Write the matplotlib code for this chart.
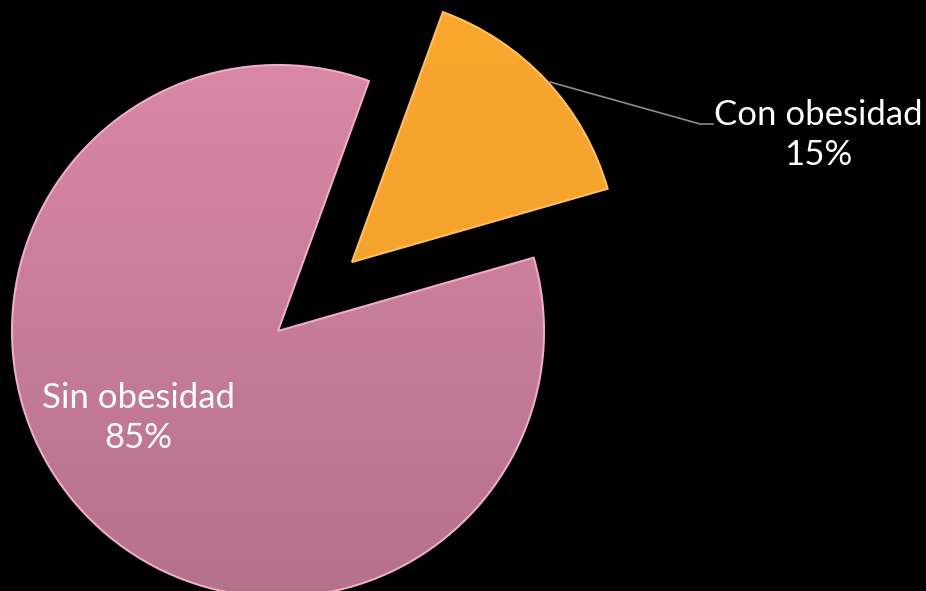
import matplotlib.pyplot as plt
import numpy as np
from matplotlib.colors import LinearSegmentedColormap

# Obesity share
labels = ["Sin obesidad", "Con obesidad"]
values = [85, 15]
explode = [0, 0.38]   # fraction of the radius
top_colors = ["#E18CAB", "#FBA92F"]
bottom_colors = ["#B2708A", "#EF9E2C"]
edge_colors = ["#EDAEC5", "#FCC060"]

W, H = 926, 591
fig = plt.figure(figsize=(W / 100, H / 100), dpi=100, facecolor="black")
ax = fig.add_axes([0, 0, 1, 1])
ax.set_facecolor("black")

cx, cy, r = 278, 260, 266
# matplotlib's explode offset is in data units, so scale by the radius
wedges, _ = ax.pie(values, explode=[e * r for e in explode], startangle=70,
                   counterclock=True, center=(cx, cy), radius=r,
                   colors=top_colors, wedgeprops=dict(linewidth=0))

# vertical gradient fill, clipped to each wedge
for w, c_top, c_bot, c_edge in zip(wedges, top_colors, bottom_colors, edge_colors):
    cmap = LinearSegmentedColormap.from_list("g", [c_bot, c_top])
    grad = np.linspace(0, 1, 256).reshape(-1, 1)
    y0, y1 = w.center[1] - r - 40, w.center[1] + r + 120
    im = ax.imshow(grad, cmap=cmap, origin="lower", aspect="auto",
                   extent=(0, W, y0, y1), zorder=2)
    im.set_clip_path(w)
    # soft bevel highlight along the edge
    w.set_edgecolor(c_edge)
    w.set_alpha(None)
    w.set_linewidth(1.5)
    w.set_zorder(3)
    w.set_facecolor("none")

ax.set_xlim(0, W)
ax.set_ylim(0, H)
ax.set_aspect("equal")
ax.axis("off")

# leader line for the small slice
ax.plot([550, 700, 713], [H - 82, H - 124, H - 124], color="#8C8C8C", lw=1.2, zorder=4)

fmt = "{}\n{}%"
ax.text(818, H - 135, fmt.format(labels[1], values[1]), color="white",
        fontsize=25, family="Lato", ha="center", va="center", linespacing=1.3)
ax.text(138, H - 418, fmt.format(labels[0], values[0]), color="white",
        fontsize=25, family="Lato", ha="center", va="center", linespacing=1.3,
        zorder=5)

fig.savefig("out.png", dpi=100, facecolor="black")
